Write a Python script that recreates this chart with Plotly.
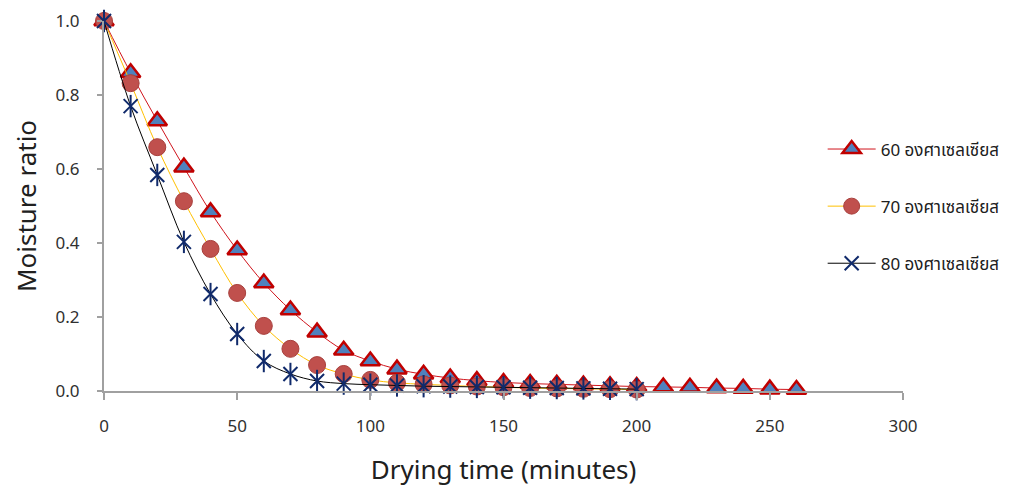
import plotly.graph_objects as go

time_60 = list(range(0, 261, 10))
mr_60 = [1.0, 0.86, 0.73, 0.605, 0.484, 0.381, 0.292, 0.219, 0.159, 0.11, 0.081, 0.059,
         0.045, 0.035, 0.028, 0.023, 0.02, 0.018, 0.016, 0.014, 0.012, 0.011, 0.01,
         0.008, 0.007, 0.005, 0.004]
time_70 = list(range(0, 201, 10))
mr_70 = [1.0, 0.832, 0.659, 0.513, 0.384, 0.265, 0.176, 0.114, 0.07, 0.046, 0.03,
         0.022, 0.018, 0.015, 0.012, 0.01, 0.008, 0.007, 0.006, 0.005, 0.004]
time_80 = list(range(0, 201, 10))
mr_80 = [1.0, 0.77, 0.584, 0.403, 0.262, 0.154, 0.081, 0.046, 0.027, 0.02, 0.017,
         0.015, 0.013, 0.012, 0.011, 0.01, 0.009, 0.008, 0.007, 0.006, 0.005]

names = ["60 องศาเซลเซียส", "70 องศาเซลเซียส", "80 องศาเซลเซียส"]
x_ticks = [0, 50, 100, 150, 200, 250, 300]
y_ticks = [0.0, 0.2, 0.4, 0.6, 0.8, 1.0]

FONT = "Noto Sans, Noto Sans Thai, Tahoma, sans-serif"
NAVY = "#102A6B"

fig = go.Figure()
fig.add_trace(go.Scatter(
    x=time_60, y=mr_60, name=names[0], mode="lines+markers",
    line=dict(color="#D0141C", width=1, shape="spline"),
    marker=dict(symbol="triangle-up", size=17, color="#4F81BD",
                line=dict(color="#C00000", width=2.5)),
    cliponaxis=False, legendgroup="a"))
fig.add_trace(go.Scatter(
    x=time_70, y=mr_70, name=names[1], mode="lines+markers",
    line=dict(color="#FFC000", width=1, shape="spline"),
    marker=dict(symbol="circle", size=17, color="#C0504D",
                line=dict(color="#A8403D", width=1)),
    cliponaxis=False, legendgroup="b"))
fig.add_trace(go.Scatter(
    x=time_80, y=mr_80, name=names[2], mode="lines+markers",
    line=dict(color="#000000", width=1, shape="spline"),
    marker=dict(symbol="x-thin-open", size=14, color=NAVY,
                line=dict(color=NAVY, width=2)),
    cliponaxis=False, legendgroup="c"))
fig.add_trace(go.Scatter(
    x=time_80, y=mr_80, name=names[2], mode="markers",
    marker=dict(symbol="line-ns-open", size=16, color=NAVY,
                line=dict(color=NAVY, width=2)),
    cliponaxis=False, legendgroup="c", showlegend=False))

fig.update_layout(
    width=1012, height=490,
    margin=dict(l=96, r=117, t=13, b=107, autoexpand=False),
    plot_bgcolor="white", paper_bgcolor="white",
    font=dict(family=FONT, size=17, color="#303030"),
    showlegend=True,
    legend=dict(xref="container", yref="container", x=0.805, xanchor="left",
                y=0.748, yanchor="top", itemwidth=48,
                font=dict(size=17, color="#202020"), tracegroupgap=32,
                bgcolor="rgba(0,0,0,0)"),
)
fig.update_xaxes(
    range=[0, 300], tickvals=x_ticks, showgrid=False, zeroline=False,
    showline=True, linecolor="#A0A0A0", linewidth=2,
    ticks="outside", ticklen=7, tickcolor="#A0A0A0", tickwidth=2,
    ticklabelstandoff=12, automargin=False,
    title=dict(text="Drying time (minutes)", font=dict(size=26, color="#202020"), standoff=24),
)
fig.update_yaxes(
    range=[0, 1.0], tickvals=y_ticks, tickformat=".1f", showgrid=False, zeroline=False,
    showline=True, linecolor="#A0A0A0", linewidth=2,
    ticks="outside", ticklen=5, tickcolor="#A0A0A0", tickwidth=2,
    ticklabelstandoff=14, automargin=False,
    title=dict(text="Moisture ratio", font=dict(size=26, color="#202020"), standoff=20),
)

fig.write_html("out.html")
